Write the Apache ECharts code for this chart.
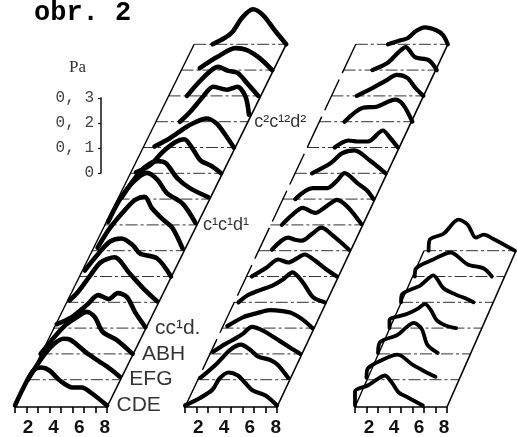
<!DOCTYPE html>
<html>
<head>
<meta charset="utf-8">
<style>html,body{margin:0;padding:0;background:#fff}#c{width:517px;height:437px}</style>
<script src="https://cdn.jsdelivr.net/npm/echarts@6/dist/echarts.min.js"></script>
</head>
<body>
<div id="c"></div>
<script>
// [frequency (kHz), pressure (Pa)] per stacked row, bottom row first
const panelA = [
 [[0,0],[.7,.068],[1.6,.14],[2.3,.152],[3,.14],[3.9,.1],[5,.072],[5.8,.072],[6.7,.048],[8,0]],
 [[0,0],[1.3,.092],[2.2,.14],[3.1,.164],[3.7,.16],[5.2,.104],[6.9,.052],[8,.012]],
 [[0,0],[2,.108],[3.2,.148],[4,.168],[4.7,.148],[5.4,.088],[6.6,.056],[8,0]],
 [[.3,.016],[1.6,.044],[2.9,.092],[3.9,.132],[4.8,.116],[5.6,.14],[6.4,.124],[7.1,.064],[8,.004]],
 [[.3,.008],[1,.04],[2.1,.108],[3,.16],[4.2,.18],[5.5,.116],[6.7,.056],[7.9,.004]],
 [[.5,.024],[1.7,.092],[2.7,.14],[3.7,.152],[4.7,.124],[5.3,.092],[6.8,.072],[8,0]],
 [[.5,.012],[1.6,.092],[2.9,.164],[3.8,.204],[4.6,.216],[5.2,.172],[6.2,.124],[7,.092],[7.9,.008]],
 [[.3,.012],[1.3,.1],[2.5,.172],[3.7,.208],[4.6,.18],[5.4,.128],[6.8,.084],[7.9,.008]],
 [[.4,.008],[1.4,.076],[2.4,.128],[3.5,.152],[4.2,.144],[5.2,.084],[6.3,.044],[7.9,.008]],
 [[.5,.004],[1.7,.032],[2.8,.084],[3.9,.124],[4.7,.136],[5.4,.1],[6.1,.052],[7.1,.028],[7.9,0]],
 [[1,.004],[2.3,.036],[3.7,.08],[4.5,.1],[5.5,.116],[6.4,.096],[7.2,.048],[7.9,0]],
 [[2.1,0],[3,.04],[4.1,.1],[5,.14],[6.2,.128],[7.1,.14],[7.8,.1],[8.1,.028]],
 [[1.6,0],[3,.072],[4.3,.116],[5.2,.1],[6,.092],[6.8,.052],[7.8,0]],
 [[1.6,.008],[3.1,.052],[4.7,.088],[5.7,.08],[6.8,.048],[7.9,0]],
 [[1.6,0],[2.6,.024],[3.3,.048],[4.2,.108],[5.1,.14],[6,.116],[7,.056],[8,0]]
];
const panelB = [
 [[0,0],[1.3,.03],[2.4,.064],[3,.108],[3.8,.132],[4.6,.12],[5.2,.092],[5.9,.06],[7,.04],[8,0]],
 [[.3,.008],[1.7,.064],[2.9,.12],[3.8,.14],[4.6,.12],[5.3,.092],[6.3,.08],[7,.06],[7.9,.008]],
 [[.3,.008],[1.4,.04],[2.2,.06],[2.9,.08],[3.7,.108],[4.7,.092],[6.1,.052],[7.2,.02],[7.9,0]],
 [[.5,.008],[1.9,.044],[3.1,.06],[4.2,.072],[5.3,.068],[6.1,.06],[7,.036],[7.9,0]],
 [[.4,0],[1.2,.028],[2,.044],[3.4,.068],[4.3,.092],[5.1,.12],[6,.08],[6.9,.02],[7.9,0]],
 [[.5,0],[1.8,.036],[2.8,.068],[3.7,.056],[4.4,.072],[5.1,.088],[6,.064],[7,.028],[7.9,0]],
 [[1.2,.004],[2.6,.052],[3.2,.044],[3.8,.04],[4.7,.068],[5.5,.092],[6.5,.06],[7.9,.004]],
 [[1,0],[1.9,.04],[2.8,.068],[3.9,.048],[4.8,.072],[5.8,.1],[6.8,.068],[7.9,.004]],
 [[1.1,0],[2.6,.044],[3.9,.044],[4.7,.072],[5.4,.104],[6.5,.064],[7.3,.036],[7.9,0]],
 [[1.5,0],[3.1,.04],[4.1,.08],[5.2,.092],[6.5,.052],[7.9,0]],
 [[2.4,0],[3.6,.028],[4.4,.024],[5.3,.024],[6.6,.068],[7.2,.04],[7.9,0]],
 [[2.2,0],[3.8,.056],[5,.06],[6.6,.088],[7.3,.068],[8.1,0]],
 [[2.2,0],[3.6,.032],[4.7,.06],[5.7,.084],[6.6,.072],[7.3,.032],[8,0]],
 [[2.5,0],[3.8,.028],[4.7,.068],[5.4,.092],[6.2,.052],[7.4,.04],[8.1,0]],
 [[2.8,0],[3.9,.016],[4.5,.024],[5.2,.052],[6,.068],[7,.056],[7.6,.036],[8,0]]
];
const panelC = [
 [[0,0],[0,.056],[1.1,.08],[1.9,.104],[2.6,.12],[3.2,.092],[3.8,.052],[4.6,.032],[5.9,0]],
 [[0,.008],[.1,.044],[1.4,.08],[2.7,.1],[4,.06],[5.1,.032],[6,.012]],
 [[0,.004],[.2,.048],[1.7,.076],[2.5,.108],[3.1,.124],[3.8,.1],[4.3,.036],[5.2,.004]],
 [[0,0],[0,.032],[1.5,.056],[2.4,.076],[3.1,.096],[3.6,.072],[4.1,.032],[5,.008],[5.8,0]],
 [[0,0],[.1,.032],[1.7,.068],[2.3,.092],[2.8,.108],[3.7,.056],[4.7,.032],[5.6,.016],[6.3,0]],
 [[.2,0],[.3,.032],[1.8,.068],[3.3,.096],[4.8,.048],[6.2,.032],[6.9,0]],
 [[.4,0],[.5,.044],[1.7,.068],[3,.124],[3.8,.104],[4.5,.052],[5.2,.064],[6,.048],[7.9,0]]
];
const freqLabels = [2, 4, 6, 8];
const pressureTicks = [0, 0.1, 0.2, 0.3];
const pressureLabels = ['0', '0, 1', '0, 2', '0, 3'];
const rowNames = ['CDE', 'EFG', 'ABH', 'cc¹d.', 'c¹c¹d¹', 'c²c¹²d²'];
const rowNameRows = [0, 1, 2, 3, 7, 11];

// layout (pixels) and scales
const W = 517, H = 437, PXF = 11.5, PXP = 250;
const baseY = 405.5, rowStep = 25.8;
const panels = [
 {rows: panelA, left: 15, step: 12.8, stroke: 4.6, dash: null, labelLeft: 2.4, labelPx: 12.8},
 {rows: panelB, left: 185, step: 12.2, stroke: 4.2, dash: [34, 7], labelLeft: 172.5, labelPx: 12.9},
 {rows: panelC, left: 355, step: 11.5, stroke: 3.8, dash: null, labelLeft: 344, labelPx: 12.5}
];
const toX = (p, r, f) => (p.left + p.step * r) / PXF + f;
const toY = (r, v) => (H - baseY + rowStep * r) / PXP + v;

const plain = {symbol: 'none', silent: true, animation: false, xAxisIndex: 0, yAxisIndex: 0, z: 2};
const series = [];
panels.forEach(p => {
  const top = p.rows.length - 1;
  p.rows.forEach((row, r) => {
    if (r > 0) series.push({...plain, type: 'line',
      data: [[toX(p, r, 0), toY(r, 0)], [toX(p, r, 8), toY(r, 0)]],
      lineStyle: {color: '#333', width: 1, type: [12, 3, 3, 3]}});
    series.push({...plain, type: 'line', z: 3, smooth: 0.3,
      data: row.map(d => [toX(p, r, d[0]), toY(r, d[1])]),
      lineStyle: {color: '#000', width: p.stroke, cap: 'round', join: 'round'}});
  });
  // left and right slanted edges of the stack
  series.push({...plain, type: 'line',
    data: [[toX(p, 0, 0), toY(0, 0) - 1.5 / PXP], [toX(p, top, 0), toY(top, 0)]],
    lineStyle: {color: '#000', width: 1.4, type: p.dash || 'solid'}});
  series.push({...plain, type: 'line',
    data: [[toX(p, 0, 8), toY(0, 0) - 1.5 / PXP], [toX(p, top, 8), toY(top, 0)]],
    lineStyle: {color: '#000', width: 1.6}});
});
series.push({type: 'scatter', silent: true, animation: false, symbol: 'circle', symbolSize: 1,
  xAxisIndex: 0, yAxisIndex: 0, itemStyle: {color: 'rgba(0,0,0,0)'},
  data: rowNames.map((t, i) => ({
    value: [toX(panels[0], rowNameRows[i], 8), toY(rowNameRows[i], 0)],
    label: {show: true, position: 'right', distance: i < 4 ? 9 : 6, formatter: t,
      fontFamily: 'Liberation Sans', color: '#000', fontSize: i < 4 ? 21 : 18}
  }))});

const grids = [
 {left: 0, top: 0, width: W, height: H},
 {left: 100, top: 98, width: 1, height: 75}
];
const xAxes = [
 {gridIndex: 0, type: 'value', min: 0, max: W / PXF, show: false},
 {gridIndex: 1, type: 'value', min: 0, max: 1, show: false}
];
const yAxes = [
 {gridIndex: 0, type: 'value', min: 0, max: H / PXP, show: false},
 {gridIndex: 1, type: 'value', min: 0, max: 0.3, interval: 0.1, position: 'left', offset: -1,
  axisLine: {show: true, lineStyle: {color: '#111', width: 1.5}},
  axisTick: {show: true, length: 3, lineStyle: {color: '#111', width: 1.2}},
  splitLine: {show: false},
  axisLabel: {margin: 7, fontFamily: 'Liberation Mono', fontSize: 16, color: '#444',
    formatter: v => pressureLabels[pressureTicks.findIndex(t => Math.abs(t - v) < 1e-6)]}}
];

panels.forEach(p => {
  const gi = grids.length;
  const width = 8 * PXF;
  grids.push({left: p.left, top: 406, width, height: 1});
  xAxes.push({gridIndex: gi, type: 'value', min: 0, max: 8, interval: 1,
    axisLine: {show: true, onZero: false, lineStyle: {color: '#000', width: 1.6}},
    axisTick: {show: true, length: 6, lineStyle: {color: '#000', width: 1.6}},
    splitLine: {show: false}, axisLabel: {show: false}});
  xAxes.push({gridIndex: gi, type: 'value', position: 'bottom',
    min: (p.left - p.labelLeft) / p.labelPx,
    max: (p.left + width - p.labelLeft) / p.labelPx,
    axisLine: {show: false}, axisTick: {show: false}, splitLine: {show: false},
    axisLabel: {margin: 11, showMinLabel: true, showMaxLabel: true, customValues: freqLabels,
      fontFamily: 'Liberation Sans', fontWeight: 'bold', fontSize: 19, color: '#111',
      formatter: v => String(v)}});
  yAxes.push({gridIndex: gi, type: 'value', min: 0, max: 1, show: false});
});

const chart = echarts.init(document.getElementById('c'), null, {renderer: 'canvas'});
chart.setOption({
  backgroundColor: '#fff',
  animation: false,
  title: [
    {text: 'obr. 2', left: 34, top: 0, padding: 0,
     textStyle: {fontFamily: 'Liberation Mono', fontWeight: 'bold', fontSize: 27, color: '#000'}},
    {text: 'Pa', left: 69, top: 59, padding: 0,
     textStyle: {fontFamily: 'Liberation Serif', fontWeight: 'normal', fontSize: 17, color: '#333'}}
  ],
  grid: grids, xAxis: xAxes, yAxis: yAxes, series
});
</script>
</body>
</html>
